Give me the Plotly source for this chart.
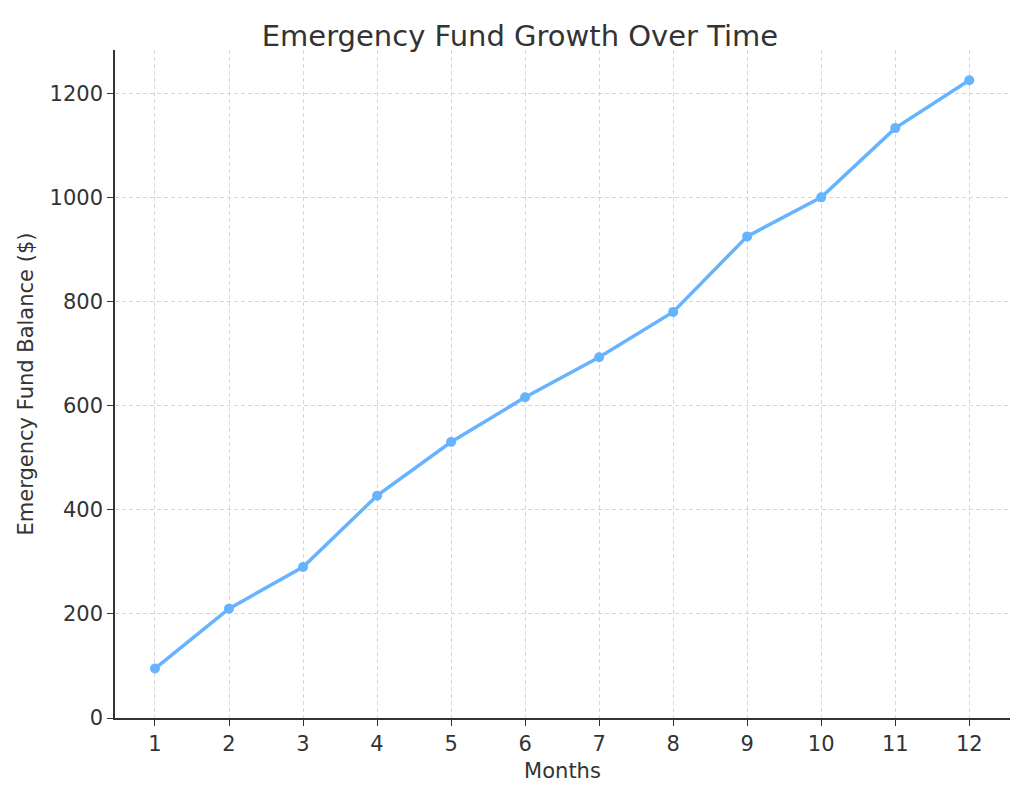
import plotly.graph_objects as go

months = list(range(1, 13))
balance = [95, 210, 290, 427, 530, 616, 693, 780, 925, 1000, 1133, 1225]

fig = go.Figure(go.Scatter(
    x=months, y=balance, mode="lines+markers",
    line=dict(color="#66b3ff", width=3.5),
    marker=dict(color="#66b3ff", size=10),
))
fig.update_layout(
    width=1024, height=795,
    margin=dict(l=107, r=22, t=42, b=85),
    plot_bgcolor="white", paper_bgcolor="white",
    font=dict(family="DejaVu Sans", size=21, color="#333"),
    title=dict(text="Emergency Fund Growth Over Time", x=0.5, xanchor="center",
               y=0.965, yanchor="middle", font=dict(size=29, color="#333")),
    showlegend=False,
)
axis_common = dict(showline=True, linecolor="#333", linewidth=1.5,
                   gridcolor="#d5d5d5", griddash="4px,3px", gridwidth=1,
                   ticks="outside", ticklen=6, tickcolor="#333",
                   tickfont=dict(size=21),
                   zeroline=False, mirror=False)
fig.update_xaxes(range=[0.46, 12.55], tickvals=months,
                 title=dict(text="Months", font=dict(size=21), standoff=8), **axis_common)
fig.update_yaxes(range=[0, 1283], tickvals=[0, 200, 400, 600, 800, 1000, 1200],
                 title=dict(text="Emergency Fund Balance ($)", font=dict(size=21), standoff=10),
                 **axis_common)
fig.write_html("out.html")
